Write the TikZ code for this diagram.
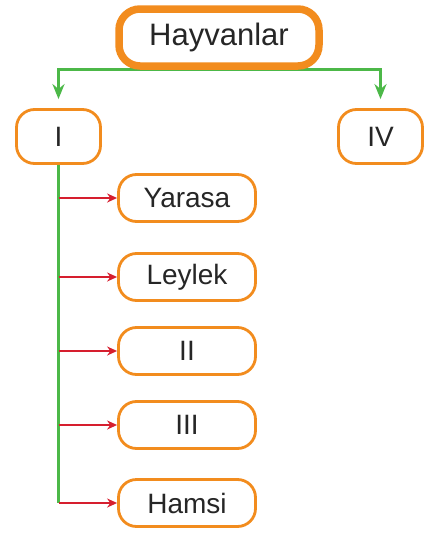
\documentclass[tikz,border=0pt]{standalone}
\usepackage{fontspec}
\setmainfont{Liberation Sans}
\usetikzlibrary{arrows.meta,backgrounds}
\definecolor{boxorange}{RGB}{242,140,30}
\definecolor{linegreen}{RGB}{76,184,72}
\definecolor{linered}{RGB}{214,30,46}

\begin{document}
\begin{tikzpicture}[
    x=1pt, y=-1pt,
    every node/.style={draw=boxorange, line width=2.8pt, rounded corners=18pt, fill=white, text=black!85, minimum width=137pt, minimum height=47pt, font=\fontsize{28}{32}\selectfont},
    root/.style={line width=7.5pt, rounded corners=21pt, minimum width=200pt, minimum height=57pt, font=\fontsize{31}{36}\selectfont},
    small/.style={minimum width=84pt, minimum height=54pt},
    branch/.style={draw=linegreen, line width=2.6pt, -{Stealth[length=15pt, width=12pt]}, shorten >=9pt},
    trunk/.style={draw=linegreen, line width=2.6pt},
    leaf/.style={draw=linered, line width=2.4pt, -{Stealth[length=10pt, width=9pt]}}
]
\useasboundingbox (0,0) rectangle (424,533);

% Top level
\node[root] (hayvan) at (219, 37.5) {Hayvanlar};
\node[small] (one) at (58.5, 136.5) {I};
\node[small] (four) at (380.5, 136.5) {IV};

% Column under I
\node (yarasa) at (187, 198) {Yarasa};
\node (leylek) at (187, 277) {Leylek};
\node (two) at (187, 351) {II};
\node (three) at (187, 425) {III};
\node (hamsi) at (187, 503) {Hamsi};

% Green connectors
\begin{scope}[on background layer]
\draw[branch] (hayvan.south) -| (one.north);
\draw[branch] (hayvan.south) -| (four.north);
\end{scope}
\draw[trunk] (one.south) -- (one.south |- hamsi.west);

% Red arrows
\draw[leaf] (one.south |- yarasa.west) -- (yarasa.west);
\draw[leaf] (one.south |- leylek.west) -- (leylek.west);
\draw[leaf] (one.south |- two.west) -- (two.west);
\draw[leaf] (one.south |- three.west) -- (three.west);
\draw[leaf] (one.south |- hamsi.west) -- (hamsi.west);

\end{tikzpicture}
\end{document}
